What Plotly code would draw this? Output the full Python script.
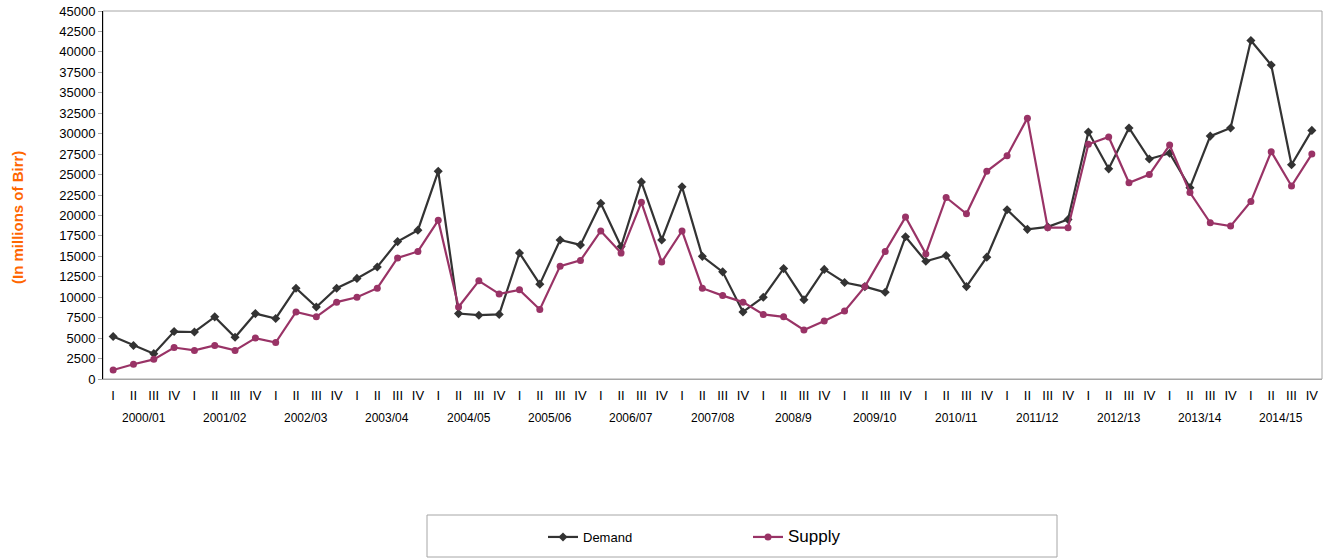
import plotly.graph_objects as go

# Fiscal years (Ethiopian calendar) and quarters
years = ["2000/01", "2001/02", "2002/03", "2003/04", "2004/05", "2005/06", "2006/07",
         "2007/08", "2008/9", "2009/10", "2010/11", "2011/12", "2012/13", "2013/14", "2014/15"]
quarters = ["I", "II", "III", "IV"]

# Foreign exchange demand and supply, millions of Birr, one value per quarter
demand = [5200, 4100, 3100, 5800, 5750, 7600, 5100, 8000,
          7400, 11100, 8800, 11100, 12300, 13700, 16800, 18200,
          25400, 8000, 7800, 7900, 15400, 11600, 17000, 16400,
          21500, 16200, 24100, 17000, 23500, 15000, 13100, 8200,
          10000, 13500, 9700, 13400, 11800, 11300, 10600, 17400,
          14400, 15100, 11300, 14900, 20700, 18300, 18600, 19500,
          30200, 25700, 30700, 26900, 27600, 23400, 29700, 30700,
          41400, 38400, 26200, 30400]
supply = [1100, 1800, 2400, 3850, 3500, 4100, 3500, 5000,
          4450, 8200, 7600, 9400, 10000, 11100, 14800, 15600,
          19400, 8800, 12000, 10400, 10900, 8500, 13800, 14500,
          18100, 15400, 21600, 14300, 18100, 11100, 10200, 9400,
          7900, 7600, 6000, 7100, 8300, 11300, 15600, 19800,
          15300, 22200, 20200, 25400, 27300, 31900, 18500, 18500,
          28700, 29600, 24000, 25000, 28600, 22800, 19100, 18700,
          21700, 27800, 23600, 27500]

y_ticks = list(range(0, 45001, 2500))

x = list(range(len(demand)))
x_labels = [quarters[i % 4] for i in x]

FONT = "Liberation Sans, Arial, sans-serif"
DEMAND_COLOR = "#333333"
SUPPLY_COLOR = "#993366"
FRAME = "#a6a6a6"

# Plot area in pixels, used to place items given in pixel terms
W, H = 1330, 559
L, R, T, B = 103, 8, 11, 180
PW, PH = W - L - R, H - T - B


def px_x(p):
    return (p - L) / PW


def px_y(p):
    return (H - B - p) / PH


fig = go.Figure()
fig.add_trace(go.Scatter(
    x=x, y=demand, name="Demand", mode="lines+markers",
    line=dict(color=DEMAND_COLOR, width=2.2),
    marker=dict(symbol="diamond", size=7, color=DEMAND_COLOR),
))
fig.add_trace(go.Scatter(
    x=x, y=supply, name='<span style="font-size:17px">Supply</span>', mode="lines+markers",
    line=dict(color=SUPPLY_COLOR, width=2.2),
    marker=dict(symbol="circle", size=7, color=SUPPLY_COLOR),
))

# Fiscal-year labels under each group of four quarters
for k, yr in enumerate(years):
    fig.add_annotation(
        x=4 * k + 1.5, y=0, xref="x", yref="paper", yshift=-39,
        text=yr, showarrow=False, yanchor="middle",
        font=dict(family=FONT, size=12, color="#000000"),
    )

# Axis title
fig.add_annotation(
    x=px_x(17), y=px_y(218), xref="paper", yref="paper",
    text="<b>(In millions of Birr)</b>",
    showarrow=False, textangle=-90, xanchor="center", yanchor="middle",
    font=dict(family=FONT, size=15, color="#ff6600"),
)

# Grey frame around the plot area
fig.add_shape(type="rect", xref="paper", yref="paper", x0=0, x1=1, y0=0, y1=1,
              line=dict(color=FRAME, width=1), layer="below")

# Legend frame
fig.add_shape(type="rect", xref="paper", yref="paper",
              x0=px_x(427), x1=px_x(1057), y0=px_y(557), y1=px_y(515),
              line=dict(color=FRAME, width=1), fillcolor="rgba(0,0,0,0)")

fig.update_layout(
    width=W, height=H,
    margin=dict(l=L, r=R, t=T, b=B, autoexpand=False),
    paper_bgcolor="white", plot_bgcolor="white",
    font=dict(family=FONT, size=13, color="#000000"),
    showlegend=True,
    legend=dict(
        orientation="h", x=px_x(543), xanchor="left",
        y=px_y(537), yanchor="middle",
        entrywidth=160, entrywidthmode="pixels",
        font=dict(family=FONT, size=13, color="#000000"),
        bgcolor="rgba(0,0,0,0)", borderwidth=0,
    ),
    xaxis=dict(
        range=[-0.5, len(demand) - 0.5],
        tickmode="array", tickvals=x, ticktext=x_labels,
        showgrid=False, zeroline=False, ticks="",
        showline=True, linecolor=FRAME, linewidth=1,
        ticklabelstandoff=4,
        tickfont=dict(family=FONT, size=13, color="#000000"),
    ),
    yaxis=dict(
        range=[0, 45000], tickmode="array", tickvals=y_ticks,
        ticktext=[str(v) for v in y_ticks],
        showgrid=False, zeroline=False,
        ticks="outside", ticklen=4, tickcolor=FRAME,
        showline=True, linecolor="#000000", linewidth=1,
        tickfont=dict(family=FONT, size=13, color="#000000"),
    ),
)

fig.write_html("out.html")
